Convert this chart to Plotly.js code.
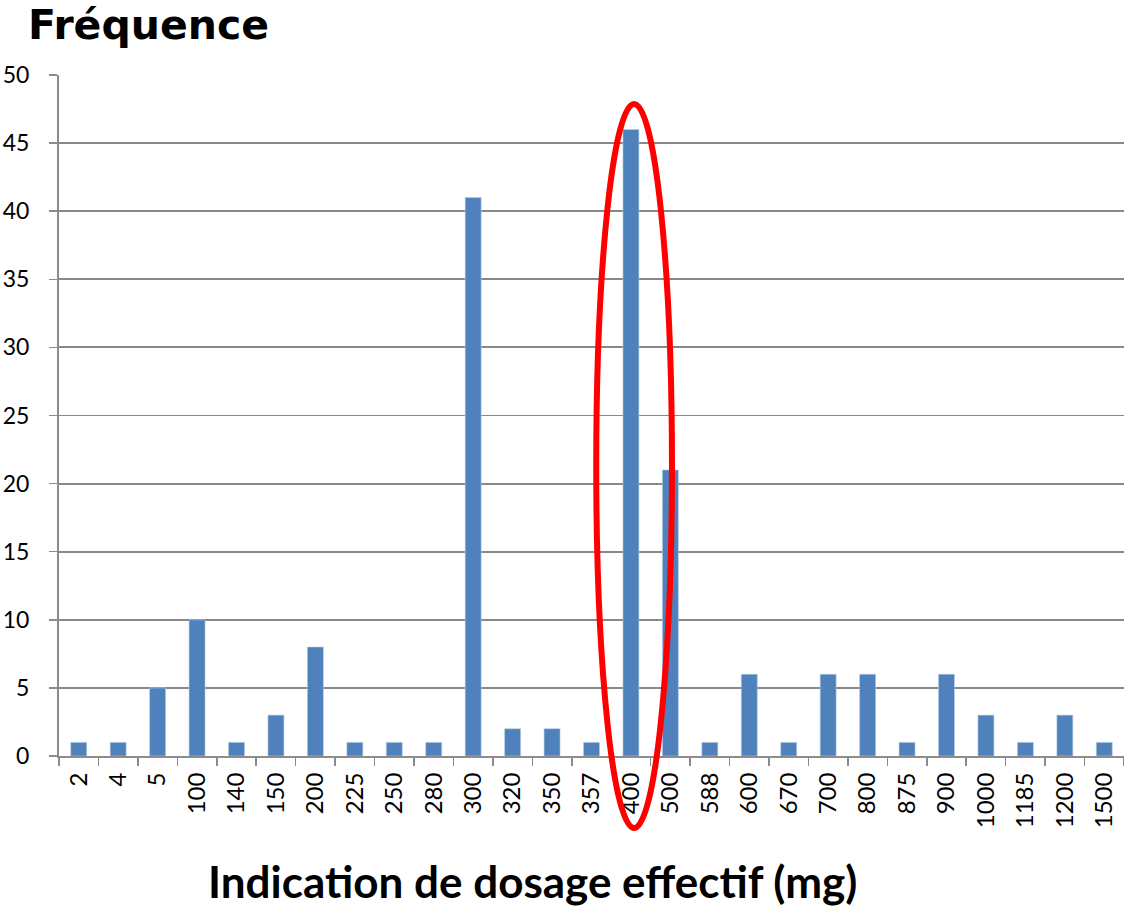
<!DOCTYPE html>
<html>
<head>
<meta charset="utf-8">
<script src="https://cdn.plot.ly/plotly-3.0.1.min.js"></script>
<style>html,body{margin:0;padding:0;background:#fff;}#chart{width:1124px;height:906px;}</style>
</head>
<body>
<div id="chart"></div>
<script>
const doses = ["2","4","5","100","140","150","200","225","250","280","300","320","350","357","400","500","588","600","670","700","800","875","900","1000","1185","1200","1500"];
const frequencies = [1,1,5,10,1,3,8,1,1,1,41,2,2,1,46,21,1,6,1,6,6,1,6,3,1,3,1];
const highlightDose = "400";
const yTickValues = [0,5,10,15,20,25,30,35,40,45,50];

const hi = doses.indexOf(highlightDose);

const trace = {
  type: 'bar',
  x: doses,
  y: frequencies,
  marker: {color: '#4F81BD', line: {color: '#b9cde5', width: 0.6}},
  hoverinfo: 'x+y'
};

const layout = {
  width: 1124,
  height: 906,
  margin: {l: 59, r: 0, t: 75, b: 150},
  paper_bgcolor: '#ffffff',
  plot_bgcolor: '#ffffff',
  showlegend: false,
  bargap: 0.595,
  font: {family: 'Lato, "Open Sans", sans-serif', color: '#000'},
  title: {
    text: 'Fréquence',
    font: {family: '"DejaVu Sans", sans-serif', size: 41, color: '#000', weight: 'bold'},
    xref: 'container', yref: 'container',
    x: 28/1124, xanchor: 'left',
    y: 1 - 25/906, yanchor: 'middle'
  },
  xaxis: {
    type: 'category',
    tickson: 'boundaries',
    ticks: 'outside',
    ticklen: 8,
    tickwidth: 1.5,
    tickcolor: '#8c8c8c',
    showline: true,
    linecolor: '#8c8c8c',
    linewidth: 2,
    tickangle: -90,
    tickfont: {family: 'Lato, sans-serif', size: 24, color: '#000'},
    ticklabelstandoff: 5,
    showgrid: false,
    fixedrange: true
  },
  yaxis: {
    range: [0, 50],
    tickvals: yTickValues,
    ticks: 'outside',
    ticklen: 8,
    tickwidth: 1.5,
    tickcolor: '#8c8c8c',
    showline: true,
    linecolor: '#8c8c8c',
    linewidth: 2,
    showgrid: true,
    gridcolor: '#888888',
    gridwidth: 1.8,
    zeroline: false,
    tickfont: {family: 'Lato, sans-serif', size: 23, color: '#000'},
    ticklabelstandoff: 15,
    fixedrange: true
  },
  annotations: [{
    text: 'Indication de dosage effectif (mg)',
    xref: 'paper', yref: 'paper',
    x: (532 - 59) / 1065, y: -(881 - 756) / 681,
    xanchor: 'center', yanchor: 'middle',
    showarrow: false,
    font: {family: 'Lato, sans-serif', size: 44, color: '#000', weight: 'bold'}
  }],
  shapes: [{
    type: 'circle',
    xref: 'x', yref: 'paper',
    x0: hi - 0.88, x1: hi + 1.04,
    y0: -(828 - 756) / 681, y1: (756 - 104) / 681,
    line: {color: '#ff0000', width: 6},
    fillcolor: 'rgba(0,0,0,0)',
    layer: 'above'
  }]
};

Plotly.newPlot('chart', [trace], layout, {displayModeBar: false, staticPlot: true});
</script>
</body>
</html>
